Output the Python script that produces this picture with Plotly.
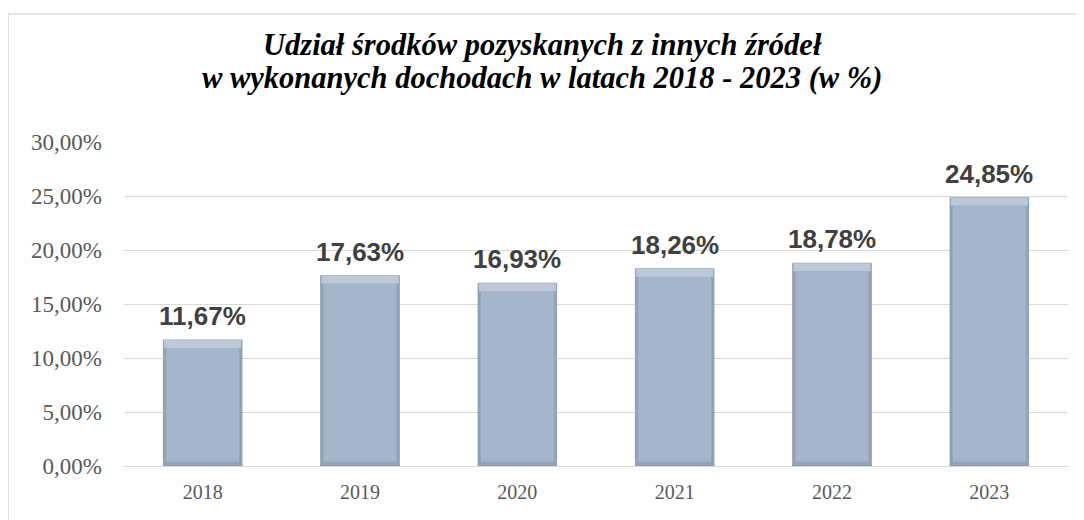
import plotly.graph_objects as go

years = ["2018", "2019", "2020", "2021", "2022", "2023"]
shares = [11.67, 17.63, 16.93, 18.26, 18.78, 24.85]
labels = ["11,67%", "17,63%", "16,93%", "18,26%", "18,78%", "24,85%"]
y_ticks = [0, 5, 10, 15, 20, 25, 30]
y_tick_text = ["0,00%", "5,00%", "10,00%", "15,00%", "20,00%", "25,00%", "30,00%"]
title_lines = ["Udział środków pozyskanych z innych źródeł",
               "w wykonanych dochodach w latach 2018 - 2023 (w %)"]

TOP_BEVEL = 0.75
BOTTOM_BEVEL = 0.4

fig = go.Figure()
# outer bar (edges)
fig.add_trace(go.Bar(
    x=years, y=shares, width=0.5,
    marker=dict(color="#93a2b7", line=dict(color="#8797ac", width=0.8)),
    hoverinfo="skip",
))
# top light bevel
fig.add_trace(go.Bar(
    x=years, y=[TOP_BEVEL] * len(shares), base=[v - TOP_BEVEL for v in shares],
    width=0.49, marker=dict(color="#bdc9d8", line=dict(width=0)), hoverinfo="skip",
))
# main face
fig.add_trace(go.Bar(
    x=years, y=[v - TOP_BEVEL - BOTTOM_BEVEL for v in shares], base=[BOTTOM_BEVEL] * len(shares),
    width=0.462, marker=dict(color="#a6b6ca", line=dict(width=0)),
    customdata=shares, hovertemplate="%{x}: %{customdata}<extra></extra>",
))

for i, (v, lab) in enumerate(zip(shares, labels)):
    fig.add_annotation(x=i, y=v, text=f"<b>{lab}</b>", showarrow=False,
                       yanchor="bottom", yshift=7,
                       font=dict(family="Liberation Sans, Arial", size=26, color="#404040"))

title_y = [1 + (142 - 45) / 324, 1 + (142 - 78) / 324]
for line, ty in zip(title_lines, title_y):
    fig.add_annotation(xref="paper", yref="paper", x=(542 - 124) / 944, y=ty,
                       xanchor="center", yanchor="middle", showarrow=False,
                       text=f"<b><i>{line}</i></b>",
                       font=dict(family="Liberation Serif, Times New Roman", size=30.5, color="black"))

fig.update_layout(
    width=1084, height=520,
    margin=dict(l=116, r=24, t=134, b=62),
    paper_bgcolor="white", plot_bgcolor="white",
    showlegend=False, barmode="overlay",
    xaxis=dict(
        type="category", range=[-0.5, len(years) - 0.5],
        showgrid=False, showline=True, linecolor="#d9d9d9", linewidth=1,
        tickfont=dict(family="Liberation Serif, DejaVu Serif", size=20, color="#595959"),
        ticklabelstandoff=8,
    ),
    yaxis=dict(
        range=[0, 30], tickvals=y_ticks, ticktext=y_tick_text,
        showgrid=True, gridcolor="#d9d9d9", gridwidth=1, zeroline=False,
        tickfont=dict(family="Liberation Serif, DejaVu Serif", size=23, color="#595959"),
        ticklabelstandoff=21,
    ),
)

fig.add_shape(type="rect", xref="paper", yref="paper",
              x0=(8 - 124) / 944, x1=1.05, y0=-0.3, y1=1 + (142 - 14) / 324,
              line=dict(color="#d9d9d9", width=1.5), fillcolor="rgba(0,0,0,0)", layer="below")

fig.write_html("out.html")
